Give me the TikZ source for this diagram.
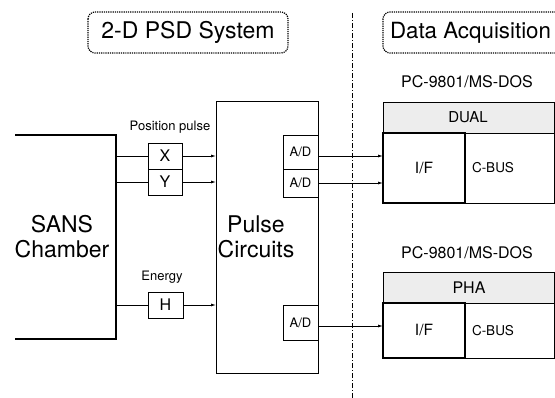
\documentclass[tikz,border=0pt]{standalone}
\usepackage{fontspec}
\setmainfont{TeX Gyre Heros}
\usetikzlibrary{arrows.meta,positioning}
\begin{document}
\begin{tikzpicture}[x=1pt,y=-1pt,
  every node/.style={inner sep=0pt,outer sep=0pt},
  titlebox/.style={draw,densely dotted,line width=1.2pt,rounded corners=7pt},
  blk/.style={draw,line width=0.8pt},
  small/.style={font=\fontsize{13}{15}\selectfont},
  big/.style={font=\fontsize{23}{25}\selectfont},
  arr/.style={line width=0.8pt,-{Latex[length=5pt,width=3pt]}},
  ln/.style={line width=0.8pt},
  shade/.style={draw,line width=0.8pt,fill=black!7},
  thick box/.style={draw,line width=2pt}]
\clip (0,0) rectangle (555,398);
\fill[white] (0,0) rectangle (555,398);
% titles
\draw[titlebox] (88,12) rectangle (288,53);
\node[big] (t1) at (188,32.5) {2-D PSD System};
\draw[titlebox] (383,12) rectangle (575,53);
\node[font=\fontsize{22.3}{25}\selectfont,anchor=west] (t2) at (390,32.5) {Data Acquisition};
% divider
\coordinate (d1) at (352,13);
\coordinate (d2) at (352,398);
\draw[line width=0.7pt,dash pattern=on 5pt off 2pt on 1pt off 2pt] (d1) -- (d2);
% SANS chamber
\draw[line width=1.3pt] (15,135) -- (116,135) -- (116,339) -- (15,339);
\coordinate (sans) at (116,156);
\node[big,align=center] (sanst) at (62,237) {SANS\\Chamber};
% pulse circuits
\node[blk,minimum width=102pt,minimum height=272pt] (pc) at (267,237) {};
\node[big,align=center] (pct) at (256,237) {Pulse\\Circuits};
% X Y H
\node[blk,minimum width=34pt,minimum height=26pt,font=\fontsize{16}{18}\selectfont] (X) at (165,156) {X};
\node[blk,minimum width=34pt,minimum height=26pt,font=\fontsize{16}{18}\selectfont] (Y) at (165,182) {Y};
\node[blk,minimum width=35pt,minimum height=26pt,font=\fontsize{16}{18}\selectfont] (H) at (165.5,305) {H};
\node[small] (pp) at (170,127) {Position pulse};
\node[small] (en) at (162,277) {Energy};
\draw[ln] (X.west -| 116,0) -- (X.west);
\draw[ln] (Y.west -| 116,0) -- (Y.west);
\draw[ln] (H.west -| 116,0) -- (H.west);
\draw[arr] (X.east) -- (X.east -| pc.west);
\draw[arr] (Y.east) -- (Y.east -| pc.west);
\draw[arr] (H.east) -- (H.east -| pc.west);
% A/D
\node[blk,minimum width=35pt,minimum height=34pt,font=\fontsize{13}{15}\selectfont] (ad1) at (300.5,152) {A/D};
\node[blk,minimum width=35pt,minimum height=28pt,font=\fontsize{13}{15}\selectfont] (ad2) at (300.5,183) {A/D};
\node[blk,minimum width=35pt,minimum height=35pt,font=\fontsize{13}{15}\selectfont] (ad3) at (300.5,322.5) {A/D};
% upper PC
\node[font=\fontsize{16}{18}\selectfont] (pc1) at (467,82) {PC-9801/MS-DOS};
\node[shade,minimum width=171pt,minimum height=31pt] (dual) at (468.5,117.5) {};
\node[font=\fontsize{15}{17}\selectfont] (dualt) at (468,117.5) {DUAL};
\node[blk,minimum width=89pt,minimum height=70pt] (cb1) at (509.5,168) {};
\node[font=\fontsize{13.5}{15}\selectfont] (cb1t) at (493,168) {C-BUS};
\node[thick box,minimum width=82pt,minimum height=70pt,font=\fontsize{15.5}{17}\selectfont] (if1) at (424,168) {I/F};
% lower PC
\node[font=\fontsize{16}{18}\selectfont] (pc2) at (467,253) {PC-9801/MS-DOS};
\node[shade,minimum width=171pt,minimum height=31pt] (pha) at (468.5,287.5) {};
\node[font=\fontsize{16}{18}\selectfont] (phat) at (469,287.5) {PHA};
\node[blk,minimum width=89pt,minimum height=55pt] (cb2) at (509.5,330.5) {};
\node[font=\fontsize{13.5}{15}\selectfont] (cb2t) at (493,330.5) {C-BUS};
\node[thick box,minimum width=82pt,minimum height=55pt,font=\fontsize{15.5}{17}\selectfont] (if2) at (424,330.5) {I/F};
% arrows to I/F
\draw[arr] (ad1.east |- 0,156) -- (if1.west |- 0,156);
\draw[arr] (ad2.east |- 0,183) -- (if1.west |- 0,183);
\draw[arr] (ad3.east |- 0,326) -- (if2.west |- 0,326);
\end{tikzpicture}
\end{document}
